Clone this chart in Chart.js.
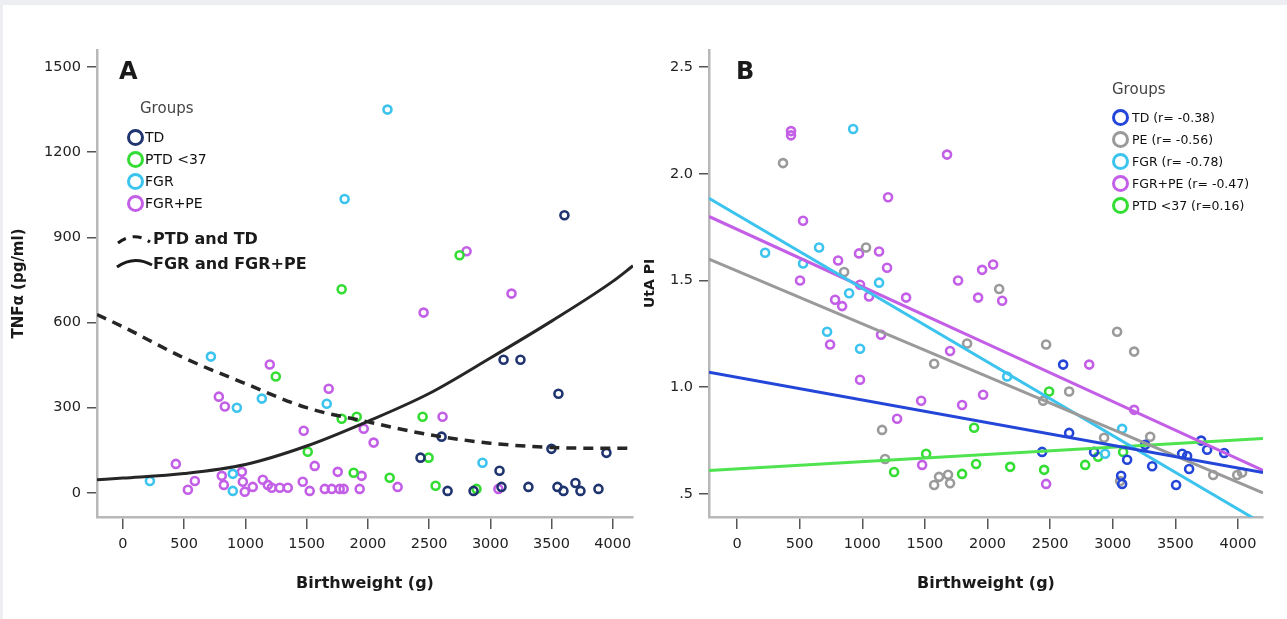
<!DOCTYPE html>
<html>
<head>
  <title>TNFa and UtA PI against birthweight</title>
  <script src="https://cdn.jsdelivr.net/npm/chart.js"></script>
  <style>
    body {
      margin: 0;
      width: 1287px;
      height: 619px;
      overflow: hidden;
      background: #eceef1;
      font-family: "DejaVu Sans", sans-serif;
      position: relative;
    }
    #sheet { position: absolute; left: 3px; top: 5px; right: 0; bottom: 0; background: #fff; }
    canvas { position: absolute; top: 0; }
    #chartA { left: 0; }
    #chartB { left: 640px; }
    .abs { position: absolute; white-space: nowrap; }
    .letter { font-size: 24px; font-weight: bold; color: #1a1a1a; }
    .ghead { font-size: 15px; color: #444; line-height: 18px; }
    .item { display: flex; align-items: center; height: 22px; }
    .ring { box-sizing: border-box; border-radius: 50%; border-style: solid; flex: none; }
    .legA .ring { width: 17px; height: 17px; border-width: 3.5px; }
    .legA .item span { font-size: 14px; color: #111; margin-left: 1px; }
    .legB .ring { width: 17px; height: 17px; border-width: 3.5px; }
    .legB .item span { font-size: 12.5px; color: #111; margin-left: 3px; }
    .fit { font-size: 16px; font-weight: bold; color: #1a1a1a; line-height: 20px; }
  </style>
</head>
<body>
  <div id="sheet"></div>
  <canvas id="chartA" width="640" height="619"></canvas>
  <canvas id="chartB" width="647" height="619"></canvas>

  <div class="abs letter" style="left:119px; top:57px;">A</div>
  <div class="abs letter" style="left:736px; top:57px;">B</div>

  <div class="abs ghead" style="left:140px; top:99px;">Groups</div>
  <div class="abs legA" id="legendA" style="left:127px; top:126px;"></div>

  <svg class="abs" style="left:110px; top:225px;" width="50" height="50">
    <path d="M8 18 Q 24 6 40 17" fill="none" stroke="#1a1a1a" stroke-width="3" stroke-dasharray="9 7"/>
    <path d="M7 42 Q 24 30 42 40" fill="none" stroke="#1a1a1a" stroke-width="3"/>
  </svg>
  <div class="abs fit" style="left:153px; top:229px;">PTD and TD</div>
  <div class="abs fit" style="left:153px; top:254px;">FGR and FGR+PE</div>

  <div class="abs ghead" style="left:1112px; top:80px;">Groups</div>
  <div class="abs legB" id="legendB" style="left:1112px; top:106px;"></div>

  <script>
    // ---- data: panel A (TNFa vs birthweight) ----
    const xTicks = [0, 500, 1000, 1500, 2000, 2500, 3000, 3500, 4000];
    const yTicksA = [0, 300, 600, 900, 1200, 1500];
    const groupsA = ['TD', 'PTD <37', 'FGR', 'FGR+PE'];

    const tdA = [[3605,978],[3108,469],[3246,469],[3556,349],[2602,198],[2430,124],[3499,155],[3948,141],
      [3075,78],[2651,7],[2863,7],[3091,21],[3311,21],[3548,21],[3597,7],[3695,35],[3736,7],[3883,14]];
    const ptdA = [[1786,717],[2749,837],[1248,410],[1786,261],[1909,268],[1509,145],[1884,71],[2447,268],
      [2496,124],[2178,53],[2553,25],[2887,14]];
    const fgrA = [[2160,1350],[1810,1035],[718,480],[930,300],[1134,332],[1664,314],[220,42],[897,67],
      [897,7],[2936,106]];
    const fgrpeA = [[2806,851],[3173,702],[2455,635],[1199,452],[1680,367],[783,339],[832,304],[1476,219],
      [1966,226],[2047,177],[2610,268],[1566,95],[432,102],[587,42],[530,11],[807,60],[824,28],[971,74],
      [979,39],[995,4],[1060,21],[1142,46],[1183,28],[1215,18],[1281,18],[1346,18],[1468,39],[1525,7],
      [1648,14],[1705,14],[1754,74],[1770,14],[1802,14],[1949,60],[1933,14],[2243,21],[3066,14]];

    // fitted curves
    const fitXA = [-212, 0, 500, 1000, 1500, 2000, 2500, 3000, 3500, 4000, 4165];
    const fitPtdTd = [628, 585, 475, 385, 300, 250, 205, 175, 160, 157, 158];
    const fitFgr = [46, 52, 68, 100, 165, 252, 350, 475, 605, 745, 800];

    // ---- data: panel B (UtA PI vs birthweight) ----
    const yTicksB = [0.5, 1.0, 1.5, 2.0, 2.5];
    const yTickLabelsB = ['.5', '1.0', '1.5', '2.0', '2.5'];
    const groupsB = ['TD (r= -0.38)', 'PE (r= -0.56)', 'FGR (r= -0.78)', 'FGR+PE (r= -0.47)', 'PTD <37 (r=0.16)'];

    const tdB = [[2604,1.106],[2652,0.786],[3259,0.73],[3706,0.75],[3754,0.707],[3890,0.692],[2436,0.697],
      [2851,0.697],[3115,0.66],[3554,0.688],[3594,0.678],[3610,0.617],[3315,0.63],[3067,0.585],[3075,0.547],
      [3506,0.542]];
    const peB = [[367,2.05],[1030,1.655],[855,1.54],[1837,1.205],[1574,1.11],[1158,0.80],[1182,0.664],
      [1574,0.542],[1613,0.58],[1685,0.59],[1701,0.55],[2093,1.46],[3035,1.26],[3171,1.167],[2468,1.20],
      [2652,0.98],[2444,0.937],[2931,0.763],[3299,0.768],[3059,0.561],[3802,0.589],[3994,0.589],[4033,0.60]];
    const fgrB = [[927,2.21],[224,1.63],[655,1.655],[527,1.58],[1134,1.49],[895,1.44],[719,1.26],[982,1.18],
      [2157,1.05],[3075,0.805],[2939,0.688]];
    const fgrpeB = [[431,2.2],[431,2.18],[1677,2.09],[1206,1.89],[527,1.78],[974,1.627],[1134,1.636],
      [807,1.594],[1198,1.56],[503,1.50],[1765,1.50],[982,1.48],[1054,1.425],[1350,1.42],[783,1.41],
      [839,1.38],[743,1.20],[1150,1.246],[1701,1.17],[982,1.035],[1957,1.55],[2045,1.575],[1925,1.42],
      [2117,1.405],[1470,0.937],[1797,0.917],[1965,0.965],[1278,0.852],[1478,0.636],[2812,1.106],
      [3171,0.894],[2468,0.547]];
    const ptdB = [[1893,0.81],[1510,0.688],[1254,0.603],[1797,0.594],[1909,0.64],[2492,0.98],[2883,0.674],
      [3083,0.697],[2181,0.627],[2452,0.613],[2780,0.636]];

    // regression lines (end points)
    const fitXB = [-224, 4200];
    const lineTdB = [1.07, 0.60];
    const linePeB = [1.60, 0.505];
    const lineFgrB = [1.885, 0.36];
    const lineFgrpeB = [1.80, 0.61];
    const linePtdB = [0.61, 0.76];

    // ---- styles ----
    const navy = '#20356f', green = '#33dd33', cyan = '#3cc4ee', purple = '#c35fe6';
    const blue = '#2446d8', grey = '#9a9a9a';
    const colorsA = [navy, green, cyan, purple];
    const colorsB = [blue, grey, cyan, purple, green];

    Chart.defaults.font.family = '"DejaVu Sans", sans-serif';

    function pts(arr) { return arr.map(p => ({ x: p[0], y: p[1] })); }

    function scatterSet(arr, color) {
      return { data: pts(arr), borderColor: color, backgroundColor: 'rgba(0,0,0,0)',
               pointRadius: 4, pointBorderWidth: 2.6, pointHoverRadius: 4 };
    }

    function lineSet(xs, ys, color, width, dash) {
      return { data: xs.map((x, i) => ({ x: x, y: ys[i] })), showLine: true, borderColor: color,
               borderWidth: width, borderDash: dash || [], pointRadius: 0, fill: false,
               tension: 0.4, cubicInterpolationMode: 'monotone' };
    }

    function scales(o) {
      return {
        x: {
          type: 'linear', min: o.xMin, max: o.xMax,
          afterBuildTicks: s => { s.ticks = xTicks.map(v => ({ value: v })); },
          afterFit: s => { s.height = 80; },
          grid: { drawOnChartArea: false, drawTicks: true, tickLength: 12, color: '#555', lineWidth: 1.5 },
          border: { display: true, color: '#b8b8b8', width: 2.5 },
          ticks: { color: '#222', font: { size: 14.5 }, padding: 7, maxRotation: 0, autoSkip: false,
                   callback: v => String(v) },
          title: { display: true, text: 'Birthweight (g)', color: '#1a1a1a',
                   font: { size: 16, weight: 'bold' }, padding: { top: 0, bottom: 4 } }
        },
        y: {
          type: 'linear', min: o.yMin, max: o.yMax,
          afterBuildTicks: s => { s.ticks = o.yTicks.map(v => ({ value: v })); },
          afterFit: s => { s.width = o.yWidth; },
          grid: { drawOnChartArea: false, drawTicks: true, tickLength: 10, color: '#555', lineWidth: 1.5 },
          border: { display: true, color: '#b8b8b8', width: 2.5 },
          ticks: { color: '#222', font: { size: 14.5 }, padding: 6, callback: o.yFmt },
          title: { display: true, text: o.yTitle, color: '#1a1a1a',
                   font: { size: o.yTitleSize, weight: 'bold' }, padding: { top: o.yTitlePad, bottom: 0 } }
        }
      };
    }

    const common = {
      responsive: false,
      animation: false,
      plugins: { legend: { display: false }, tooltip: { enabled: false } }
    };

    new Chart(document.getElementById('chartA'), {
      type: 'scatter',
      data: {
        datasets: [
          lineSet(fitXA, fitPtdTd, '#262626', 3.5, [10, 7]),
          lineSet(fitXA, fitFgr, '#262626', 3),
          scatterSet(tdA, navy),
          scatterSet(ptdA, green),
          scatterSet(fgrA, cyan),
          scatterSet(fgrpeA, purple)
        ]
      },
      options: Object.assign({}, common, {
        layout: { padding: { left: 0, top: 50, right: 7, bottom: 22 } },
        scales: scales({ xMin: -212, xMax: 4165, yMin: -85, yMax: 1560, yTicks: yTicksA,
                         yWidth: 97, yTitle: 'TNFα (pg/ml)', yTitleSize: 15, yTitlePad: 10,
                         yFmt: v => String(v) })
      })
    });

    new Chart(document.getElementById('chartB'), {
      type: 'scatter',
      data: {
        datasets: [
          lineSet(fitXB, lineTdB, blue, 3),
          lineSet(fitXB, linePeB, grey, 3),
          lineSet(fitXB, lineFgrB, cyan, 3),
          lineSet(fitXB, lineFgrpeB, purple, 3),
          lineSet(fitXB, linePtdB, '#4fe34f', 3),
          scatterSet(tdB, blue),
          scatterSet(peB, grey),
          scatterSet(fgrB, cyan),
          scatterSet(fgrpeB, purple),
          scatterSet(ptdB, green)
        ]
      },
      options: Object.assign({}, common, {
        layout: { padding: { left: 0, top: 50, right: 24, bottom: 22 } },
        scales: scales({ xMin: -224, xMax: 4200, yMin: 0.392, yMax: 2.58, yTicks: yTicksB,
                         yWidth: 69, yTitle: 'UtA PI', yTitleSize: 14, yTitlePad: 2,
                         yFmt: (v, i) => yTickLabelsB[i] })
      })
    });

    // legends built from the group lists
    function buildLegend(id, names, colors) {
      const box = document.getElementById(id);
      names.forEach((n, i) => {
        const row = document.createElement('div');
        row.className = 'item';
        const ring = document.createElement('div');
        ring.className = 'ring';
        ring.style.borderColor = colors[i];
        const txt = document.createElement('span');
        txt.textContent = n;
        row.appendChild(ring);
        row.appendChild(txt);
        box.appendChild(row);
      });
    }
    buildLegend('legendA', groupsA, colorsA);
    buildLegend('legendB', groupsB, colorsB);
  </script>
</body>
</html>
